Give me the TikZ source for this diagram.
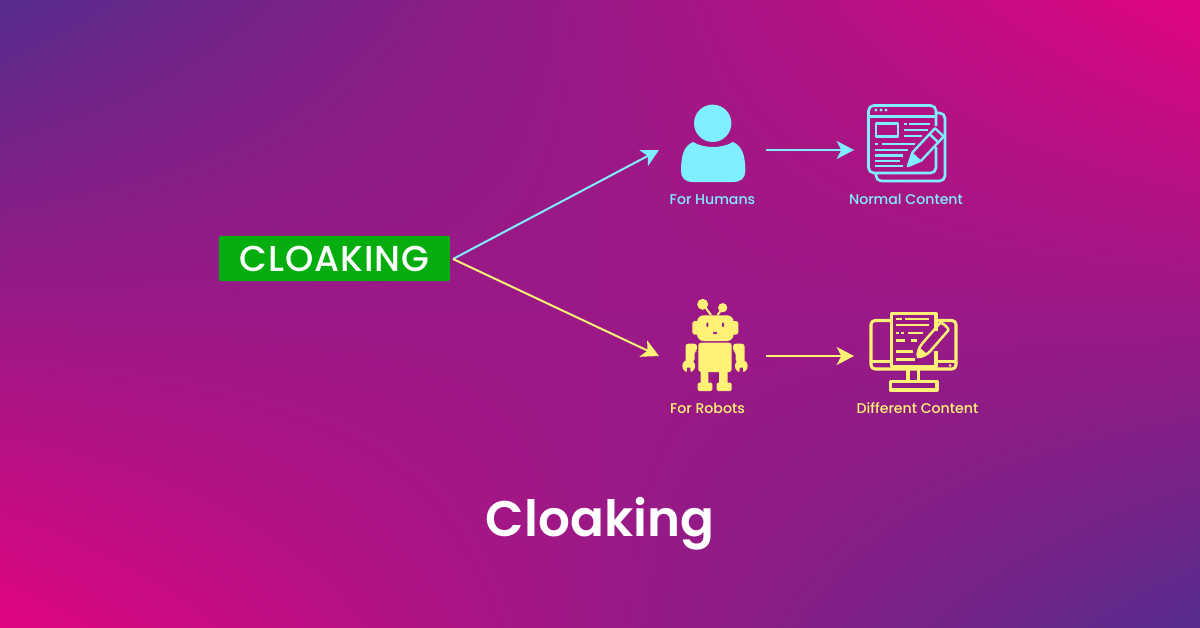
\documentclass[tikz,border=0pt]{standalone}
\usepackage{fontspec}
\usepackage{xcolor}
\usetikzlibrary{arrows.meta,shadings}
\setmainfont{Poppins}
\newfontfamily\medfont[LetterSpace=2.5]{Poppins Medium}
\newfontfamily\capfont{Poppins Medium}
\newfontfamily\semifont{Poppins SemiBold}
\definecolor{humancol}{HTML}{7FEEFF}
\definecolor{robotcol}{HTML}{FFF176}
\definecolor{boxgreen}{HTML}{05AE0E}
\definecolor{robotbg}{HTML}{9A1A8C}
\definecolor{cornerdark}{HTML}{562C8C}
\definecolor{cornerpink}{HTML}{E00580}
\tikzset{
	linkarrow/.style={line width=1.5pt,-{Stealth[length=13pt,width=13.5pt,inset=3.5pt]}},
	caption/.style={font=\capfont\fontsize{10.6}{12}\selectfont,inner sep=0pt},
	iconline/.style={line width=2pt,line join=round},
	thinline/.style={line width=1.9pt},
}
\begin{document}
\begin{tikzpicture}[x=.75pt,y=-.75pt]
	\useasboundingbox (0,0) rectangle (1200,628);
	\shade[upper left=cornerdark,upper right=cornerpink,lower left=cornerpink,lower right=cornerdark] (0,0) rectangle (1200,628);

	\node[fill=boxgreen,text=white,rounded corners=1pt,minimum width=173pt,minimum height=34pt,inner sep=0pt,font=\medfont\fontsize{27}{30}\selectfont] (cloaking) at (334.5,258.5) {CLOAKING};
	\coordinate (fork) at (453,259);
	\coordinate (humansin) at (659,150);
	\coordinate (robotsin) at (659,356);
	\coordinate (humansout) at (766,150);
	\coordinate (normalin) at (854,150);
	\coordinate (robotsout) at (766,356);
	\coordinate (differentin) at (854,356);
	\draw[linkarrow,humancol] (fork) -- (humansin);
	\draw[linkarrow,robotcol] (fork) -- (robotsin);
	\draw[linkarrow,humancol] (humansout) -- (normalin);
	\draw[linkarrow,robotcol] (robotsout) -- (differentin);

	\fill[humancol] (712.7,123.3) circle (18.7);
	\fill[humancol] (693,182) .. controls (685,182) and (681,178) .. (681,171) .. controls (681,155) and (684,146) .. (693,142) .. controls (699,145.5) and (706,147) .. (713,147) .. controls (720,147) and (727,145.5) .. (733,142) .. controls (742,146) and (745.3,155) .. (745.3,171) .. controls (745.3,178) and (741,182) .. (733,182) -- cycle;

	\draw[iconline,humancol,rounded corners=4pt] (936,126) -- (936,105.5) -- (868.5,105.5) -- (868.5,173) -- (936,173) -- (936,147);
	\draw[iconline,humancol,rounded corners=4pt] (937,113) -- (945,113) -- (945,181) -- (876,181) -- (876,174);
	\draw[iconline,humancol] (868.5,116.5) -- (936,116.5);
	\draw[iconline,humancol] (876,123.5) rectangle (898,136.5);
	\foreach \px in {876,881,886}
		\fill[humancol] (\px,110) circle (1.6);
	\foreach \xa/\xb/\ly in {904/907/124,909/930/124,904/928/130,904/922/136,875/878/144,882/915/144,875/908/150,875/903/155.5,875/900/161,875/903/166}
		\draw[thinline,humancol] (\xa,\ly) -- (\xb,\ly);
	\begin{scope}[shift={(908,166)},rotate=47]
		\fill[humancol] (0,0) -- (13,-6) -- (13,6) -- cycle;
		\draw[iconline,humancol,line width=1.8pt] (0,0) -- (13,-6) -- (46,-6) -- (46,6) -- (13,6) -- cycle;
		\draw[iconline,humancol,line width=1.8pt] (38,-6) -- (38,6);
	\end{scope}

	\fill[robotcol] (702.7,304.3) circle (5.5) (722.7,307.7) circle (4.6);
	\draw[line width=1.5pt,robotcol] (705,307) -- (711,315) (720.5,311) -- (717.5,315);
	\fill[robotcol,rounded corners=5pt] (697,315.3) rectangle (733.7,341);
	\fill[robotcol,rounded corners=2pt] (692.3,321) rectangle (738.4,334.7);
	\fill[robotcol,rounded corners=2pt] (698.3,342.7) rectangle (731.7,372);
	\fill[robotcol] (700.7,372) rectangle (708.3,383) (719,372) rectangle (727.7,383);
	\fill[robotcol,rounded corners=1pt] (697.7,382.7) rectangle (712.3,391) (716.7,382.7) rectangle (731.7,391);
	\fill[robotbg,rounded corners=.7pt] (706.4,322.5) rectangle (708.4,327) (722,322.5) rectangle (724,327);
	\fill[robotbg] (713,332) -- (717,332) -- (716.5,334) -- (713.5,334) -- cycle;
	\foreach \side in {-1,1}{
		\begin{scope}[shift={(715,0)},xscale=\side]
			\fill[robotcol,rounded corners=2pt] (-18,343.7) -- (-29.5,343.7) -- (-29.5,362) -- (-20.5,362) -- (-20.5,351.3) -- (-18,351.3) -- cycle;
			\fill[robotcol] (-26.3,366) circle (6.4);
			\fill[robotbg] (-27.8,367.5) -- (-24.8,367.5) -- (-24.2,373) -- (-28.4,373) -- cycle;
		\end{scope}
	}

	\draw[iconline,robotcol,line width=2.3pt,rounded corners=3pt] (891,320.5) -- (871,320.5) -- (871,369) -- (956,369) -- (956,320.5) -- (936.5,320.5);
	\draw[iconline,robotcol,line width=2.3pt] (871,361.5) -- (891,361.5) (936.5,361.5) -- (956,361.5);
	\fill[robotcol] (950,365.5) circle (1.5);
	\draw[iconline,robotcol,line width=2.3pt] (908,370) -- (908,381.5) (918.5,370) -- (918.5,381.5);
	\draw[iconline,robotcol,line width=2.3pt] (890.5,381.5) rectangle (937,390);
	\draw[iconline,robotcol,line width=2.3pt] (936,331) -- (936,313.7) -- (891.5,313.7) -- (891.5,366.5) -- (936,366.5) -- (936,351);
	\foreach \xa/\xb/\ly in {896/902/319,905/929/319,896/929/325,896/899/333,901/904/333,908/923/333,896/905/340.7,911/917/340.7,896/913/351.7,896/915/359.3}
		\draw[thinline,robotcol] (\xa,\ly) -- (\xb,\ly);
	\begin{scope}[shift={(916.7,358.3)},rotate=49]
		\fill[robotcol] (0,0) -- (10,-5.5) -- (10,5.5) -- cycle;
		\draw[iconline,robotcol,line width=1.9pt,rounded corners=3pt] (0,0) -- (10,-5.5) -- (38,-5.5) .. controls (44,-5.5) and (44,5.5) .. (38,5.5) -- (10,5.5) -- cycle;
	\end{scope}

	\node[caption,text=humancol] (forhumans) at (712.5,199.5) {For Humans};
	\node[caption,text=humancol] (normal) at (906,199.5) {Normal Content};
	\node[caption,text=robotcol] (forrobots) at (707.5,408.5) {For Robots};
	\node[caption,text=robotcol] (different) at (917.5,408.5) {Different Content};
	\node[text=white,inner sep=0pt,font=\semifont\fontsize{37.5}{44}\selectfont] (title) at (600,524) {Cloaking};
\end{tikzpicture}
\end{document}
